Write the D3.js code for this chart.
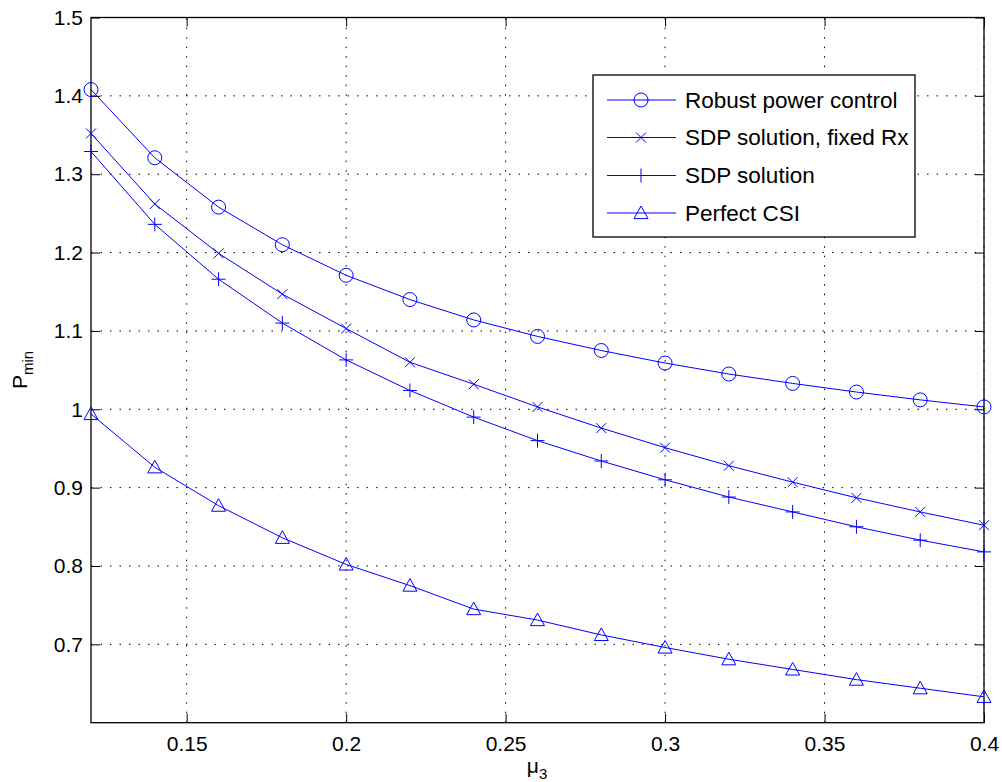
<!DOCTYPE html>
<html>
<head>
<meta charset="utf-8">
<script src="https://cdn.jsdelivr.net/npm/d3@7"></script>
<style>
  body { margin: 0; background: #fff; }
  svg { font-family: "Liberation Sans", Arial, sans-serif; }
</style>
</head>
<body>
<div id="chart"></div>
<script>
var w = 1002; // page width
var h = 782;  // page height
var margin = { left: 91, right: 18, top: 17.5, bottom: 59.3 };

// x values (mu_3)
var muValues = [0.12, 0.14, 0.16, 0.18, 0.20, 0.22, 0.24, 0.26, 0.28, 0.30, 0.32, 0.34, 0.36, 0.38, 0.40];

// series
var robustPower = [1.408, 1.321, 1.258, 1.210, 1.171, 1.140, 1.114, 1.093, 1.075, 1.059, 1.045, 1.033, 1.022, 1.012, 1.003];
var sdpFixedRx = [1.352, 1.262, 1.199, 1.147, 1.103, 1.060, 1.032, 1.003, 0.976, 0.951, 0.928, 0.907, 0.887, 0.869, 0.852];
var sdpSolution = [1.329, 1.236, 1.166, 1.110, 1.063, 1.024, 0.990, 0.960, 0.934, 0.910, 0.888, 0.869, 0.850, 0.833, 0.818];
var perfectCsi = [0.994, 0.926, 0.877, 0.836, 0.802, 0.775, 0.745, 0.731, 0.712, 0.696, 0.681, 0.668, 0.655, 0.644, 0.633];

var seriesNames = ["Robust power control", "SDP solution, fixed Rx", "SDP solution", "Perfect CSI"];
var seriesMarkers = ["circle", "x", "plus", "triangle"];

var xTicks = [0.15, 0.2, 0.25, 0.3, 0.35, 0.4];
var yTicks = [0.7, 0.8, 0.9, 1, 1.1, 1.2, 1.3, 1.4, 1.5];

var blue = "#0000ff";

var svg = d3.select("#chart")
    .append("svg")
    .attr("width", w)
    .attr("height", h);

var xScale = d3.scaleLinear()
    .domain([0.12, 0.4])
    .range([margin.left, w - margin.right]);

var yScale = d3.scaleLinear()
    .domain([0.6, 1.5])
    .range([h - margin.bottom, margin.top]);

var x0 = xScale.range()[0], x1 = xScale.range()[1];
var y0 = yScale.range()[0], y1 = yScale.range()[1];

// grid lines (dotted)
var grid = svg.append("g");
grid.selectAll("line.gx")
    .data(xTicks)
    .enter()
    .append("line")
    .attr("x1", function(d) { return xScale(d); })
    .attr("x2", function(d) { return xScale(d); })
    .attr("y1", y0)
    .attr("y2", y1)
    .attr("stroke", "#000")
    .attr("stroke-width", 1)
    .attr("stroke-dasharray", "1.5,8");
grid.selectAll("line.gy")
    .data(yTicks)
    .enter()
    .append("line")
    .attr("x1", x0)
    .attr("x2", x1)
    .attr("y1", function(d) { return yScale(d); })
    .attr("y2", function(d) { return yScale(d); })
    .attr("stroke", "#000")
    .attr("stroke-width", 1)
    .attr("stroke-dasharray", "1.5,8");

// axes, matlab style with inner ticks on all four sides
var tickLen = 9;
var fmt = function(d) { return String(+d.toFixed(2)); };

var xAxisB = svg.append("g")
    .attr("transform", "translate(0," + y0 + ")")
    .call(d3.axisBottom(xScale).tickValues(xTicks).tickFormat(fmt).tickSizeInner(-tickLen).tickSizeOuter(0).tickPadding(13));
var xAxisT = svg.append("g")
    .attr("transform", "translate(0," + y1 + ")")
    .call(d3.axisTop(xScale).tickValues(xTicks).tickFormat("").tickSizeInner(-tickLen).tickSizeOuter(0));
var yAxisL = svg.append("g")
    .attr("transform", "translate(" + x0 + ",0)")
    .call(d3.axisLeft(yScale).tickValues(yTicks).tickFormat(fmt).tickSizeInner(-tickLen).tickSizeOuter(0).tickPadding(8));
var yAxisR = svg.append("g")
    .attr("transform", "translate(" + x1 + ",0)")
    .call(d3.axisRight(yScale).tickValues(yTicks).tickFormat("").tickSizeInner(-tickLen).tickSizeOuter(0));

[xAxisB, xAxisT, yAxisL, yAxisR].forEach(function(a) {
    a.select(".domain").remove();
    a.selectAll("line").attr("stroke", "#000").attr("stroke-width", 1);
    a.selectAll("text").attr("fill", "#000").style("font-size", "21px").style("font-family", "Liberation Sans, Arial, sans-serif");
});

svg.append("rect")
    .attr("x", x0)
    .attr("y", y1)
    .attr("width", x1 - x0)
    .attr("height", y0 - y1)
    .attr("fill", "none")
    .attr("stroke", "#000")
    .attr("stroke-width", 1.3);

// marker drawing
function drawMarker(g, type, cx, cy) {
    if (type === "circle") {
        g.append("circle").attr("cx", cx).attr("cy", cy).attr("r", 7)
            .attr("fill", "none").attr("stroke", blue).attr("stroke-width", 1);
    } else if (type === "x") {
        var s = 5;
        g.append("path")
            .attr("d", "M" + (cx - s) + "," + (cy - s) + "L" + (cx + s) + "," + (cy + s) +
                       "M" + (cx - s) + "," + (cy + s) + "L" + (cx + s) + "," + (cy - s))
            .attr("stroke", blue).attr("stroke-width", 1).attr("fill", "none");
    } else if (type === "plus") {
        var p = 7;
        g.append("path")
            .attr("d", "M" + (cx - p) + "," + cy + "L" + (cx + p) + "," + cy +
                       "M" + cx + "," + (cy - p) + "L" + cx + "," + (cy + p))
            .attr("stroke", blue).attr("stroke-width", 1).attr("fill", "none");
    } else if (type === "triangle") {
        var t = 7;
        g.append("path")
            .attr("d", "M" + cx + "," + (cy - t) + "L" + (cx + t) + "," + (cy + t * 0.8) +
                       "L" + (cx - t) + "," + (cy + t * 0.8) + "Z")
            .attr("stroke", blue).attr("stroke-width", 1).attr("fill", "none");
    }
}

var allSeries = [robustPower, sdpFixedRx, sdpSolution, perfectCsi];

var line = d3.line()
    .x(function(d, i) { return xScale(muValues[i]); })
    .y(function(d) { return yScale(d); });

allSeries.forEach(function(vals, k) {
    var g = svg.append("g");
    g.append("path")
        .datum(vals)
        .attr("fill", "none")
        .attr("stroke", blue)
        .attr("stroke-width", 1)
        .attr("d", line);
    vals.forEach(function(v, i) {
        drawMarker(g, seriesMarkers[k], xScale(muValues[i]), yScale(v));
    });
});

// legend
var legend = svg.append("g");
var lx = 593, ly = 75, lw = 322, lh = 162;
legend.append("rect")
    .attr("x", lx).attr("y", ly)
    .attr("width", lw).attr("height", lh)
    .attr("fill", "#fff")
    .attr("stroke", "#000")
    .attr("stroke-width", 1.3);

var rowY = [100, 137.5, 175.5, 213];
seriesNames.forEach(function(name, k) {
    var yy = rowY[k];
    legend.append("line")
        .attr("x1", 607).attr("x2", 676)
        .attr("y1", yy).attr("y2", yy)
        .attr("stroke", blue).attr("stroke-width", 1);
    drawMarker(legend, seriesMarkers[k], 641, yy);
    legend.append("text")
        .attr("x", 685)
        .attr("y", yy)
        .attr("dy", "0.35em")
        .style("font-size", "22.5px")
        .attr("fill", "#000")
        .text(name);
});

// axis labels
var xl = svg.append("text")
    .attr("x", 537)
    .attr("y", 773)
    .attr("text-anchor", "middle")
    .style("font-size", "21px")
    .attr("fill", "#000");
xl.append("tspan").text("μ");
xl.append("tspan").attr("dy", 6).style("font-size", "15px").text("3");

var yl = svg.append("text")
    .attr("transform", "translate(27,370) rotate(-90)")
    .attr("text-anchor", "middle")
    .style("font-size", "21px")
    .attr("fill", "#000");
yl.append("tspan").text("P");
yl.append("tspan").attr("dy", 6).style("font-size", "15px").text("min");
</script>
</body>
</html>
